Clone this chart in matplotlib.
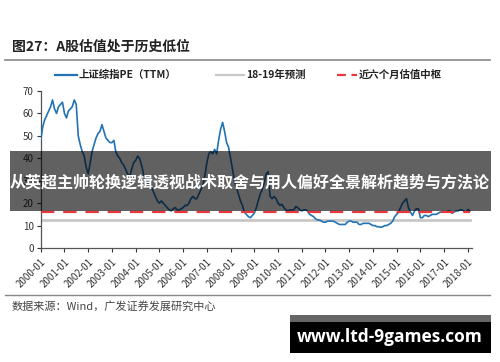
import matplotlib
matplotlib.use("Agg")
import matplotlib.pyplot as plt
from matplotlib.patches import Rectangle
from matplotlib.lines import Line2D
import pandas as pd

plt.rcParams['font.family'] = ['Noto Sans CJK SC', 'DejaVu Sans']

# ---------------- data ----------------
pe_2000 = [48, 54, 57, 59, 61, 63, 66, 62, 60, 63, 64, 65]
pe_2001 = [60, 58, 61, 62, 63, 66, 64, 50, 46, 43, 41, 36]
pe_2002 = [33, 38, 43, 46, 49, 51, 52, 55, 52, 49, 48, 47]
pe_2003 = [47, 48, 43, 41, 40, 38, 37, 35, 33, 32, 35, 38]
pe_2004 = [39, 41, 40, 37, 33, 30, 29, 28, 27, 25, 23, 21]
pe_2005 = [20, 21, 20, 19, 18, 17, 16.5, 17.5, 18, 17, 17, 17.5]
pe_2006 = [18, 19, 19, 20, 22, 23, 22, 22, 24, 26, 28, 32]
pe_2007 = [38, 42, 43, 42, 44, 42, 48, 53, 56, 52, 47, 45]
pe_2008 = [40, 35, 30, 27, 24, 21, 19, 16, 15, 14, 13.5, 14.5]
pe_2009 = [15.5, 18, 21, 24, 26, 29, 33, 34, 23, 22, 23, 22]
pe_2010 = [20, 19, 19.5, 18, 17, 16.5, 17, 17, 17, 18.5, 18, 17]
pe_2011 = [16.5, 17, 17, 16.5, 15, 14.5, 14, 13, 12.5, 12.5, 12, 11.5]
pe_2012 = [11.5, 12, 12, 12, 12, 11.5, 11, 10.5, 10.5, 10.5, 10.5, 11.5]
pe_2013 = [12, 12, 11.5, 11.5, 11.5, 10.5, 10.5, 11, 11, 11, 11, 10.5]
pe_2014 = [10, 10, 9.5, 9.5, 9.2, 9.5, 10, 10, 10.5, 11, 12, 14]
pe_2015 = [15, 16, 18, 20, 21, 22, 18, 16, 14.5, 16.5, 17.5, 17.5]
pe_2016 = [13.5, 13.5, 14.5, 14.5, 14, 14.5, 15, 15, 15, 15.5, 16, 16]
pe_2017 = [16, 16, 16.5, 16.5, 15.5, 16, 16.5, 16.5, 17, 17, 16.5, 16]
pe_2018 = [17.2, 16.5]

forecast_pe = 12.6      # 18-19年预测
center_pe = 16.0        # 近六个月估值中枢

years = list(range(2000, 2019))
tick_labels = [f"{y}-01" for y in years]

series_name = "上证综指PE（TTM）"
forecast_name = "18-19年预测"
center_name = "近六个月估值中枢"
title_text = "图27：A股估值处于历史低位"
source_text = "数据来源：Wind，广发证券发展研究中心"
banner_text = "从英超主帅轮换逻辑透视战术取舍与用人偏好全景解析趋势与方法论"
watermark_text = "www.ltd-9games.com"

pe_values = (pe_2000 + pe_2001 + pe_2002 + pe_2003 + pe_2004 + pe_2005 + pe_2006 +
             pe_2007 + pe_2008 + pe_2009 + pe_2010 + pe_2011 + pe_2012 + pe_2013 +
             pe_2014 + pe_2015 + pe_2016 + pe_2017 + pe_2018)
dates = pd.date_range("2000-01-01", periods=len(pe_values), freq="MS")

# ---------------- figure ----------------
W, H = 500, 362
fig = plt.figure(figsize=(W / 100, H / 100), dpi=100)
fig.patch.set_facecolor("white")

def fx(px):
    return px / W

def fy(py):
    return 1 - py / H

ax = fig.add_axes([fx(40.7), fy(248), fx(472) - fx(40.7), fy(91) - fy(248)])

blue = "#2272b4"
ax.plot(dates, pe_values, color=blue, lw=1.2, zorder=3)
ax.plot([dates[0], dates[-1]], [forecast_pe, forecast_pe], color="#c8c8c8", lw=2.0, zorder=2)
ax.plot([dates[0], dates[-1]], [center_pe, center_pe], color="#e8383d", lw=1.6,
        dashes=(6, 4), zorder=4)

ax.set_xlim(pd.Timestamp("2000-01-01"), pd.Timestamp("2018-03-05"))
ax.set_ylim(0, 70)
ax.set_yticks(range(0, 71, 10))
ax.set_xticks([pd.Timestamp(f"{y}-01-01") for y in years])
ax.set_xticklabels(tick_labels, rotation=45, ha="right", rotation_mode="anchor")
ax.tick_params(axis="both", labelsize=7, colors="#333333", length=3, width=0.8, pad=2)
ax.tick_params(axis="x", pad=3)
for s in ["top", "right"]:
    ax.spines[s].set_visible(False)
for s in ["left", "bottom"]:
    ax.spines[s].set_color("#555555")
    ax.spines[s].set_linewidth(0.9)
ax.set_facecolor("white")

# ---------------- title & rules ----------------
fig.text(fx(12), fy(47), title_text, fontsize=10, fontweight="bold", color="#222222",
         va="center", ha="left")
fig.add_artist(Line2D([fx(5), fx(490)], [fy(60), fy(60)], color="#888888", lw=1.2))
fig.add_artist(Line2D([fx(5), fx(490)], [fy(295), fy(295)], color="#888888", lw=1.0))
fig.text(fx(12), fy(306), source_text, fontsize=8, color="#444444", va="center", ha="left")

# ---------------- legend ----------------
ly = fy(75)
fig.add_artist(Line2D([fx(55), fx(77)], [ly, ly], color=blue, lw=1.6))
fig.text(fx(79), ly, series_name, fontsize=7.5, fontweight="bold", color="#222222",
         va="center", ha="left")
fig.add_artist(Line2D([fx(216), fx(244)], [ly, ly], color="#c8c8c8", lw=1.6))
fig.text(fx(246), ly, forecast_name, fontsize=7.5, fontweight="bold", color="#222222",
         va="center", ha="left")
fig.add_artist(Line2D([fx(337), fx(357)], [ly, ly], color="#e8383d", lw=1.6, dashes=(4, 2.5)))
fig.text(fx(359), ly, center_name, fontsize=7.5, fontweight="bold", color="#222222",
         va="center", ha="left")

# ---------------- banner overlay ----------------
fig.add_artist(Rectangle((fx(10), fy(211)), fx(491) - fx(10), fy(151) - fy(211),
                         transform=fig.transFigure, facecolor="black", alpha=0.62,
                         edgecolor="none", zorder=10))
fig.text(fx(250), fy(182), banner_text, fontsize=11.5, fontweight="bold", color="white",
         va="center", ha="center", zorder=11)

# ---------------- watermark ----------------
fig.add_artist(Rectangle((fx(290), fy(322)), fx(491) - fx(290), fy(315) - fy(322),
                         transform=fig.transFigure, facecolor="#666666", edgecolor="none",
                         zorder=10))
fig.add_artist(Rectangle((fx(290), fy(353)), fx(491) - fx(290), fy(322) - fy(353),
                         transform=fig.transFigure, facecolor="black", edgecolor="none",
                         zorder=10))
fig.text(fx(390), fy(337), watermark_text, fontsize=12.5, fontweight="bold", color="white",
         family=["Open Sans", "DejaVu Sans"], va="center", ha="center", zorder=11)

fig.savefig("out.png", dpi=100, facecolor="white")
